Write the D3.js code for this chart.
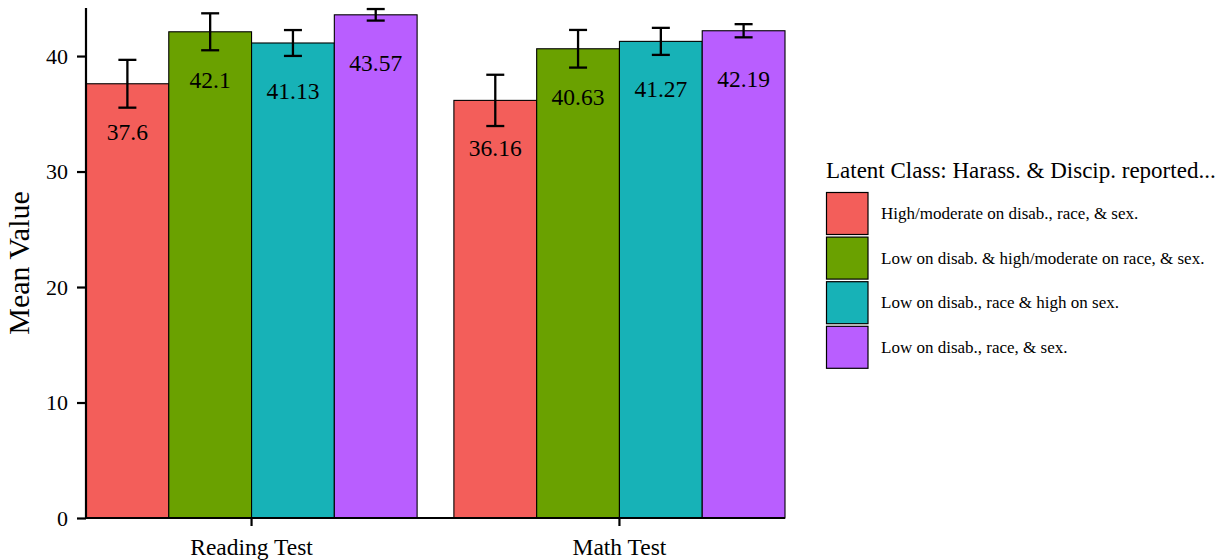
<!DOCTYPE html>
<html>
<head>
<meta charset="utf-8"/>
<title>Mean Value by Latent Class</title>
<script src="https://cdn.jsdelivr.net/npm/d3@7"></script>
<style>
  body { margin: 0; background: #fff; }
  text { font-family: 'Liberation Serif', 'Times New Roman', serif; fill: #000; }
  .tick text { font-size: 22px; }
  .valLabel { font-size: 23.5px; text-anchor: middle; }
  .legendText { font-size: 17px; }
</style>
</head>
<body>
<div id="chart"></div>
<script>
// data
var tests = ["Reading Test", "Math Test"];
var classes = [
  "High/moderate on disab., race, & sex.",
  "Low on disab. & high/moderate on race, & sex.",
  "Low on disab., race & high on sex.",
  "Low on disab., race, & sex."
];
var readingMeans = [37.6, 42.1, 41.13, 43.57];
var mathMeans = [36.16, 40.63, 41.27, 42.19];
var readingErr = [2.07, 1.6, 1.12, 0.5];
var mathErr = [2.22, 1.63, 1.17, 0.57];
var yTicks = [0, 10, 20, 30, 40];
var legendTitle = "Latent Class: Harass. & Discip. reported...";

var colours = ["#F35E5A", "#6AA100", "#17B2B7", "#B95EFF"];

var W = 1225, H = 560;
var plot = {left: 86, right: 785, top: 8, bottom: 518};

var rows = [];
tests.forEach(function(t, i) {
  var means = i === 0 ? readingMeans : mathMeans;
  var errs = i === 0 ? readingErr : mathErr;
  classes.forEach(function(c, j) {
    rows.push({test: t, cls: c, value: means[j], err: errs[j], j: j});
  });
});

var svg = d3.select("#chart").append("svg")
  .attr("width", W).attr("height", H);

var x = d3.scaleBand().domain(tests)
  .range([plot.left, plot.right])
  .paddingInner(0.1).paddingOuter(0);
var xc = d3.scaleBand().domain(classes)
  .range([0, x.bandwidth()]).padding(0);
var y = d3.scaleLinear().domain([0, 44.16]).range([plot.bottom, plot.top]);

// bars
svg.append("g").selectAll("rect")
  .data(rows).enter().append("rect")
  .attr("x", function(d) { return x(d.test) + xc(d.cls); })
  .attr("y", function(d) { return y(d.value); })
  .attr("width", xc.bandwidth())
  .attr("height", function(d) { return y(0) - y(d.value); })
  .attr("fill", function(d) { return colours[d.j]; })
  .attr("stroke", "#000")
  .attr("stroke-width", 1.1);

// error bars
var eb = svg.append("g").attr("stroke", "#000").attr("stroke-width", 2.3)
  .selectAll("g").data(rows).enter().append("g")
  .attr("transform", function(d) { return "translate(" + (x(d.test) + xc(d.cls) + xc.bandwidth() / 2) + ",0)"; });
eb.append("line")
  .attr("y1", function(d) { return y(d.value - d.err); })
  .attr("y2", function(d) { return y(d.value + d.err); });
eb.append("line").attr("x1", -9).attr("x2", 9)
  .attr("y1", function(d) { return y(d.value + d.err); })
  .attr("y2", function(d) { return y(d.value + d.err); });
eb.append("line").attr("x1", -9).attr("x2", 9)
  .attr("y1", function(d) { return y(d.value - d.err); })
  .attr("y2", function(d) { return y(d.value - d.err); });

// value labels
svg.append("g").selectAll("text")
  .data(rows).enter().append("text")
  .attr("class", "valLabel")
  .attr("x", function(d) { return x(d.test) + xc(d.cls) + xc.bandwidth() / 2; })
  .attr("y", function(d) { return y(d.value) + 56; })
  .text(function(d) { return d.value; });

// axes
var yAxis = svg.append("g")
  .attr("transform", "translate(" + plot.left + ",0)")
  .call(d3.axisLeft(y).tickValues(yTicks).tickSize(9).tickPadding(9).tickSizeOuter(0));
var xAxis = svg.append("g")
  .attr("transform", "translate(0," + plot.bottom + ")")
  .call(d3.axisBottom(x).tickSize(8).tickPadding(12).tickSizeOuter(0));
[yAxis, xAxis].forEach(function(a) {
  a.select(".domain").attr("stroke", "#000").attr("stroke-width", 2.2);
  a.selectAll(".tick line").attr("stroke", "#000").attr("stroke-width", 2.2);
  a.selectAll(".tick text").attr("fill", "#000");
});
yAxis.select(".domain").attr("d", "M0," + plot.top + "V" + (plot.bottom + 1));
xAxis.select(".domain").attr("d", "M" + (plot.left - 1) + ",0H" + plot.right);
xAxis.selectAll(".tick text").style("font-size", "23.5px");

svg.append("text")
  .attr("transform", "translate(29," + ((plot.top + plot.bottom) / 2) + ") rotate(-90)")
  .attr("text-anchor", "middle")
  .style("font-size", "30px")
  .text("Mean Value");

// legend
var lg = svg.append("g").attr("transform", "translate(826,0)");
lg.append("text").attr("x", 0).attr("y", 178).style("font-size", "23px").text(legendTitle);
var item = lg.selectAll(".item").data(classes).enter().append("g")
  .attr("transform", function(d, i) { return "translate(0," + (192 + i * 44.6) + ")"; });
item.append("rect").attr("x", 0.5).attr("y", 0.5).attr("width", 41.5).attr("height", 42)
  .attr("fill", function(d, i) { return colours[i]; })
  .attr("stroke", "#000").attr("stroke-width", 1.2);
item.append("text").attr("class", "legendText").attr("x", 55).attr("y", 27).text(function(d) { return d; });
</script>
</body>
</html>
